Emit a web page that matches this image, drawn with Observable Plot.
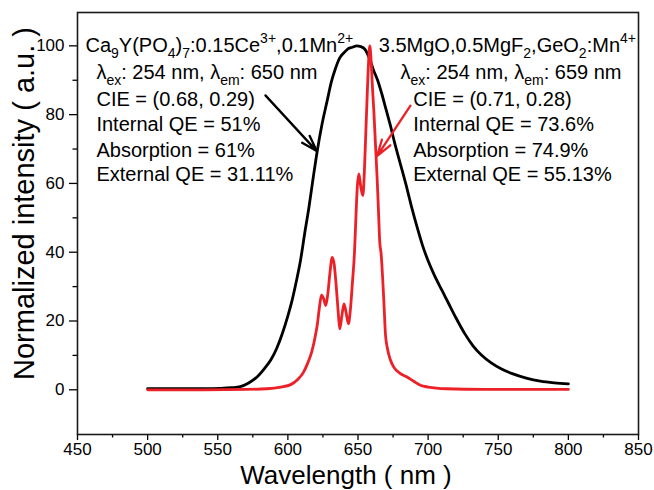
<!DOCTYPE html>
<html><head><meta charset="utf-8">
<script src="https://cdn.jsdelivr.net/npm/d3@7"></script>
<script src="https://cdn.jsdelivr.net/npm/@observablehq/plot@0.6"></script>
<style>html,body{margin:0;padding:0;background:#fff;}</style>
</head><body><div id="chart"></div>
<script>
// Black curve: Ca9Y(PO4)7:0.15Ce3+,0.1Mn2+
const blackWavelength = [500,520,540,552,560,566,572,578,583,588,592,596,600,603,606,609,612,615,618,621,624,628,631,634,637,640,643,646,649,652,655,658,661,664,667,670,673,676,680,684,688,692,696,700,704,710,714,720,726,732,738,745,752,760,770,780,790,800];
const blackIntensity = [0.3,0.3,0.3,0.4,0.6,0.9,2.0,3.7,6.0,8.8,12.0,16.3,21.5,26,31.5,37.6,45.5,53,61.5,69.6,76.5,84,89.5,93.5,96.5,98,99.2,99.6,100,99.8,99,96.5,93,90,86,81.5,77,72,66,60,53.5,47.5,42,37.5,33.7,28.8,25.6,20.8,16.4,12.8,10.1,7.8,6.1,4.7,3.4,2.5,2.0,1.7];
// Red curve: 3.5MgO,0.5MgF2,GeO2:Mn4+
const redWavelength = [500,540,570,585,595,602,607,611,614,617,619.5,621,622.5,624,625.5,627,628.5,630,631.6,633,634.5,636,637,638.5,640,641.5,643.2,644.5,646,647.5,648.5,649.5,650.6,652,653.5,654.5,655.5,656.5,657.5,658.4,659.3,660.3,661.3,662.5,663.7,664.7,665.5,666.5,667.5,668.4,669.6,671,673,675.5,680,685,690,695,700,713,740,800];
const redIntensity = [0,0,0.1,0.3,0.8,1.5,3,5,7.6,11,15.5,19,24,27.5,26.5,24.5,28,34,38.5,36.5,30,22,17.7,21.5,25,22.5,19.2,23,31,40,50,59,62.8,59,56.5,63,74,85,95,100,96,88,81,71,61,51,43,39.5,33,26,16,12,8.8,6.6,4.8,3.7,2.4,1.25,0.8,0.3,0.1,0.1];

const xTicks = [450,500,550,600,650,700,750,800,850];
const xMinorTicks = [475,525,575,625,675,725,775,825];
const yTicks = [0,20,40,60,80,100];
const yMinorTicks = [10,30,50,70,90];

const xTitle = "Wavelength ( nm )";
const yTitle = "Normalized intensity ( a.u. )";

const annotationText = [
  "Ca_{9}Y(PO_{4})_{7}:0.15Ce^{3+},0.1Mn^{2+}",
  "λ_{ex}: 254 nm, λ_{em}: 650 nm",
  "CIE = (0.68, 0.29)",
  "Internal QE = 51%",
  "Absorption = 61%",
  "External QE = 31.11%",
  "3.5MgO,0.5MgF_{2},GeO_{2}:Mn^{4+}",
  "λ_{ex}: 254 nm, λ_{em}: 659 nm",
  "CIE = (0.71, 0.28)",
  "Internal QE = 73.6%",
  "Absorption = 74.9%",
  "External QE = 55.13%"
];
const annotationX = [455.7,463.5,463.5,463.5,463.5,463.5, 664.8,680.3,689.4,689.4,689.4,689.4];
const annotationY = [98.2,90.5,82.4,75.1,67.8,60.7, 98.2,90.5,82.4,75.1,67.8,60.7];

const arrowX1 = [584.0, 687.4];
const arrowY1 = [85.6, 82.6];
const arrowX2 = [620.6, 663.7];
const arrowY2 = [69.4, 68.0];
const arrowColor = ["#000000", "#ec2128"];

const blackRows = blackWavelength.map((w, i) => ({w, v: blackIntensity[i]}));
const redRows = redWavelength.map((w, i) => ({w, v: redIntensity[i]}));
const annRows = annotationText.map((t, i) => ({t, x: annotationX[i], y: annotationY[i]}));
const arrowRows = arrowX1.map((x1, i) => ({x1, y1: arrowY1[i], x2: arrowX2[i], y2: arrowY2[i], c: arrowColor[i]}));

const svg = Plot.plot({
  width: 654, height: 490,
  marginLeft: 77, marginRight: 16, marginTop: 12, marginBottom: 56,
  x: {domain: [450, 850]},
  y: {domain: [-13, 109.7]},
  style: {fontFamily: "'Liberation Sans', Arial, sans-serif", color: "#000", background: "#fff"},
  marks: [
    Plot.axisX(xTicks, {tickSize: 6, tickPadding: 2, fontSize: 17, label: null, strokeWidth: 1.3}),
    Plot.axisX(xMinorTicks, {tickSize: 3.5, text: null, label: null, strokeWidth: 1.3}),
    Plot.axisY(yTicks, {tickSize: 8, tickPadding: 5, fontSize: 17, label: null, strokeWidth: 1.3}),
    Plot.axisY(yMinorTicks, {tickSize: 4.5, text: null, label: null, strokeWidth: 1.3}),
    Plot.frame({stroke: "#1a1a1a", strokeWidth: 1.6}),
    Plot.line(blackRows, {x: "w", y: "v", stroke: "#000", strokeWidth: 2.8, curve: "monotone-x"}),
    Plot.line(redRows, {x: "w", y: "v", stroke: "#ec2128", strokeWidth: 2.8, curve: "monotone-x"}),
    Plot.arrow(arrowRows, {x1: "x1", y1: "y1", x2: "x2", y2: "y2", stroke: d => d.c, strokeWidth: 2.3, headLength: 11, headAngle: 35}),
    Plot.text(annRows, {x: "x", y: "y", text: "t", textAnchor: "start", lineAnchor: "bottom", fontSize: 20, fill: "#000"}),
    Plot.text([xTitle], {text: d => d, frameAnchor: "bottom", textAnchor: "middle", dy: 49, dx: -12, lineAnchor: "bottom", fontSize: 26, fill: "#000"}),
    Plot.text([yTitle], {text: d => d, frameAnchor: "left", textAnchor: "middle", rotate: -90, dx: -44, dy: -20, lineAnchor: "bottom", fontSize: 29, fill: "#000"})
  ]
});

function rich(el, s) {
  const parts = [];
  const re = /([_^])\{([^}]*)\}/g;
  let last = 0, m;
  while ((m = re.exec(s))) {
    if (m.index > last) parts.push({t: s.slice(last, m.index), k: 0});
    parts.push({t: m[2], k: m[1] === "_" ? 1 : -1});
    last = re.lastIndex;
  }
  if (last < s.length) parts.push({t: s.slice(last), k: 0});
  el.textContent = "";
  let cur = 0;
  for (const p of parts) {
    const off = p.k === 1 ? 6 : p.k === -1 ? -9 : 0;
    const ts = document.createElementNS("http://www.w3.org/2000/svg", "tspan");
    ts.setAttribute("dy", off - cur);
    if (p.k) ts.setAttribute("font-size", 14);
    ts.textContent = p.t;
    el.appendChild(ts);
    cur = off;
  }
}
d3.select(svg).selectAll("text").each(function () {
  const t = this.textContent;
  if (/[_^]\{/.test(t)) rich(this, t);
});
document.getElementById("chart").appendChild(svg);
</script>
</body></html>
